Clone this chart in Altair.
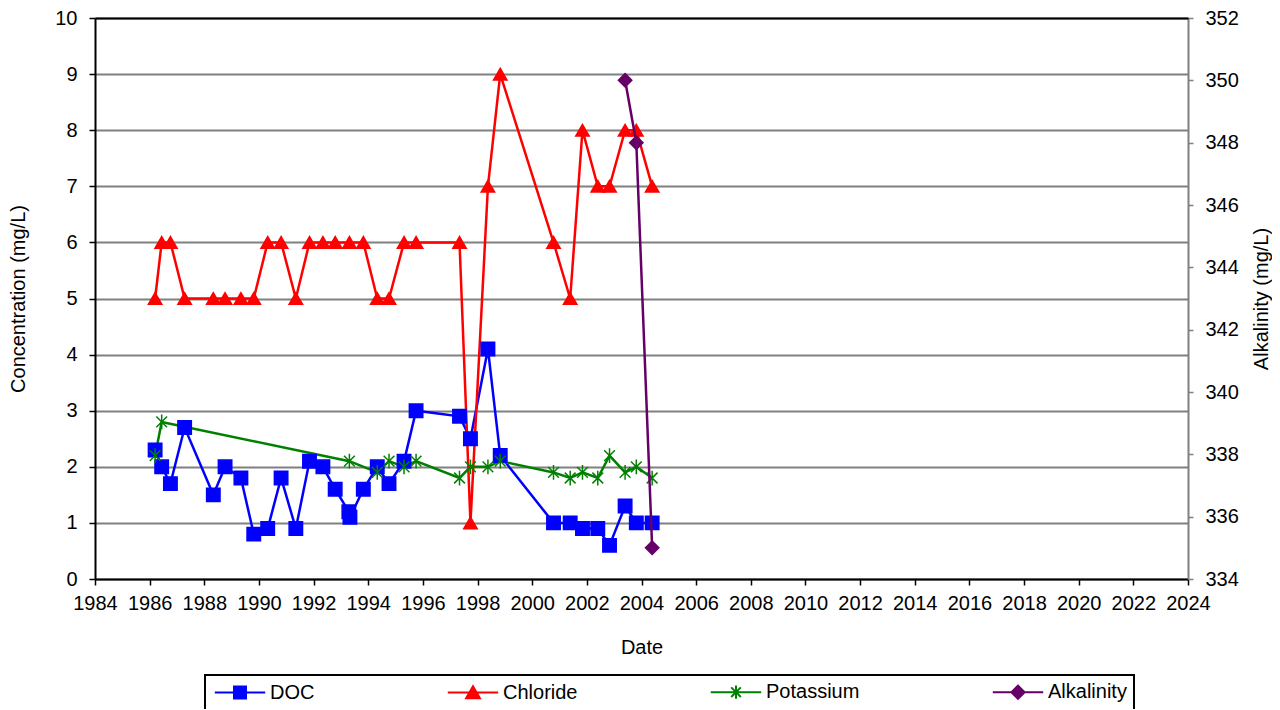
import altair as alt
import pandas as pd

# ---- data ----
series_names = ["DOC", "Chloride", "Potassium", "Alkalinity"]
series_colors = ["#0000FF", "#FF0000", "#008000", "#660066"]

doc_dates = [1986.20, 1986.44, 1986.76, 1987.28, 1988.33, 1988.76, 1989.34, 1989.81,
             1990.32, 1990.81, 1991.35, 1991.85, 1992.34, 1992.79, 1993.29, 1993.33,
             1993.82, 1994.33, 1994.76, 1995.31, 1995.75, 1997.34, 1997.74, 1998.38,
             1998.83, 2000.78, 2001.39, 2001.84, 2002.40, 2002.83, 2003.40, 2003.81,
             2004.39]
doc_values = [2.3, 2.0, 1.7, 2.7, 1.5, 2.0, 1.8, 0.8, 0.9, 1.8, 0.9, 2.1, 2.0, 1.6,
              1.2, 1.1, 1.6, 2.0, 1.7, 2.1, 3.0, 2.9, 2.5, 4.1, 2.2, 1.0, 1.0, 0.9,
              0.9, 0.6, 1.3, 1.0, 1.0]

chloride_dates = [1986.20, 1986.44, 1986.76, 1987.28, 1988.33, 1988.76, 1989.34, 1989.81,
                  1990.32, 1990.81, 1991.35, 1991.85, 1992.34, 1992.79, 1993.31, 1993.82,
                  1994.33, 1994.76, 1995.31, 1995.75, 1997.34, 1997.74, 1998.38, 1998.83,
                  2000.78, 2001.39, 2001.84, 2002.40, 2002.83, 2003.40, 2003.81, 2004.39]
chloride_values = [5, 6, 6, 5, 5, 5, 5, 5, 6, 6, 5, 6, 6, 6, 6, 6, 5, 5, 6, 6, 6, 1,
                   7, 9, 6, 5, 8, 7, 7, 8, 8, 7]

potassium_dates = [1986.20, 1986.44, 1993.31, 1994.33, 1994.76, 1995.31, 1995.75, 1997.34,
                   1997.74, 1998.38, 1998.83, 2000.78, 2001.39, 2001.84, 2002.40, 2002.83,
                   2003.40, 2003.81, 2004.39]
potassium_values = [2.2, 2.8, 2.1, 1.9, 2.1, 2.0, 2.1, 1.8, 2.0, 2.0, 2.1, 1.9, 1.8, 1.9,
                    1.8, 2.2, 1.9, 2.0, 1.8]

alkalinity_dates = [2003.40, 2003.81, 2004.39]
alkalinity_values = [350, 348, 335]

x_ticks = list(range(1984, 2025, 2))
left_ticks = list(range(0, 11))
right_ticks = list(range(334, 353, 2))

# ---- tables ----
conc = pd.concat([
    pd.DataFrame({"date": doc_dates, "value": doc_values, "series": "DOC"}),
    pd.DataFrame({"date": chloride_dates, "value": chloride_values, "series": "Chloride"}),
    pd.DataFrame({"date": potassium_dates, "value": potassium_values, "series": "Potassium"}),
], ignore_index=True)
alk = pd.DataFrame({"date": alkalinity_dates, "value": alkalinity_values, "series": "Alkalinity"})

asterisk = "M-0.8,-0.8L0.8,0.8M-0.8,0.8L0.8,-0.8M0,-1.1L0,1.1"
marker_shapes = ["square", "triangle-up", asterisk, "diamond"]

# legend symbols: short line with the marker in its middle
seg = "M-4.2,0L4.2,0"
legend_paths = {
    "DOC": seg + "M-1,-1L1,-1L1,1L-1,1Z",
    "Chloride": seg + "M0,-1.05L1.15,0.95L-1.15,0.95Z",
    "Potassium": seg + asterisk,
    "Alkalinity": seg + "M-1.1,0L0,-1.1L1.1,0L0,1.1Z",
}
sym_expr = " : ".join(f"datum.value === '{k}' ? '{v}'" for k, v in legend_paths.items()) + " : 'circle'"

# legend-carrying scales (fill / stroke of the markers)
color_scale = alt.Scale(domain=series_names, range=series_colors)
# line colour and marker shape scales (no legend of their own)
line_scale = alt.Scale(domain=series_names[::-1], range=series_colors[::-1])
shape_scale = alt.Scale(domain=series_names[1:] + series_names[:1],
                        range=marker_shapes[1:] + marker_shapes[:1])

FS = 20

legend = alt.Legend(
    title="", orient="none", legendX=110, legendY=657, direction="horizontal",
    columns=4, columnPadding=128, padding=7, strokeColor="black",
    labelFontSize=FS, labelFont="Liberation Sans", labelColor="black",
    symbolSize=144, symbolStrokeWidth=2, symbolOffset=18, labelOffset=20,
    symbolType=alt.ExprRef(expr=sym_expr),
)

x_bottom = alt.X("date:Q", scale=alt.Scale(domain=[1984, 2024], nice=False, zero=False),
                 axis=alt.Axis(values=x_ticks, format="d", title="Date", grid=False,
                               tickSize=6, labelPadding=8, titlePadding=24,
                               labelFlush=False, labelOverlap=False))
x_top = alt.X("date:Q", scale=alt.Scale(domain=[1984, 2024], nice=False, zero=False),
              axis=alt.Axis(orient="top", labels=False, ticks=False, grid=False, title="",
                            domainColor="black", domainWidth=2, zindex=2))

y_left = alt.Y("value:Q", scale=alt.Scale(domain=[0, 10], nice=False, zero=False),
               axis=alt.Axis(values=left_ticks, title="Concentration (mg/L)", grid=True,
                             gridColor="#808080", gridWidth=2, tickSize=6, labelPadding=12,
                             titlePadding=26, labelFlush=False))
y_right = alt.Y("value:Q", scale=alt.Scale(domain=[334, 352], nice=False, zero=False),
                axis=alt.Axis(orient="right", values=right_ticks, title="Alkalinity (mg/L)",
                              titleAngle=270, grid=False, domainColor="#808080",
                              tickColor="#808080", tickSize=5, labelPadding=12,
                              titlePadding=33, labelFlush=False))

conc_lines = alt.Chart(conc).mark_line(strokeWidth=2.5).encode(
    x=x_bottom, y=y_left,
    color=alt.Color("series:N", scale=line_scale, legend=None),
    order=alt.Order("date:Q"),
)
conc_points = alt.Chart(conc).mark_point(filled=True, opacity=1, size=180, strokeWidth=1.5).encode(
    x=x_bottom, y=y_left,
    fill=alt.Fill("series:N", scale=color_scale, legend=legend),
    stroke=alt.Stroke("series:N", scale=color_scale, legend=legend),
    shape=alt.Shape("series:N", scale=shape_scale, legend=None),
)
left = alt.layer(conc_lines, conc_points)

alk_line = alt.Chart(alk).mark_line(strokeWidth=2.5).encode(
    x=x_top, y=y_right,
    color=alt.Color("series:N", scale=line_scale, legend=None),
)
alk_points = alt.Chart(alk).mark_point(filled=True, opacity=1, size=180, strokeWidth=1.5).encode(
    x=x_top, y=y_right,
    fill=alt.Fill("series:N", scale=color_scale, legend=legend),
    stroke=alt.Stroke("series:N", scale=color_scale, legend=legend),
    shape=alt.Shape("series:N", scale=shape_scale, legend=None),
)
right = alt.layer(alk_line, alk_points)

chart = alt.layer(left, right).resolve_scale(y="independent").resolve_axis(
    x="independent"
).properties(
    width=1093, height=561,
    autosize=alt.AutoSizeParams(type="none"),
    padding={"left": 87, "top": 10, "right": 84, "bottom": 130},
).configure(
    font="Liberation Sans",
).configure_view(
    strokeWidth=0,
).configure_axis(
    labelFont="Liberation Sans", titleFont="Liberation Sans",
    labelFontSize=FS, titleFontSize=FS, titleFontWeight="normal",
    labelColor="black", titleColor="black",
    domainColor="black", domainWidth=2, tickColor="black", tickWidth=1.5,
).configure_legend(
    strokeWidth=2,
)

chart.save("out.html", embed_options={"renderer": "svg", "actions": False})
